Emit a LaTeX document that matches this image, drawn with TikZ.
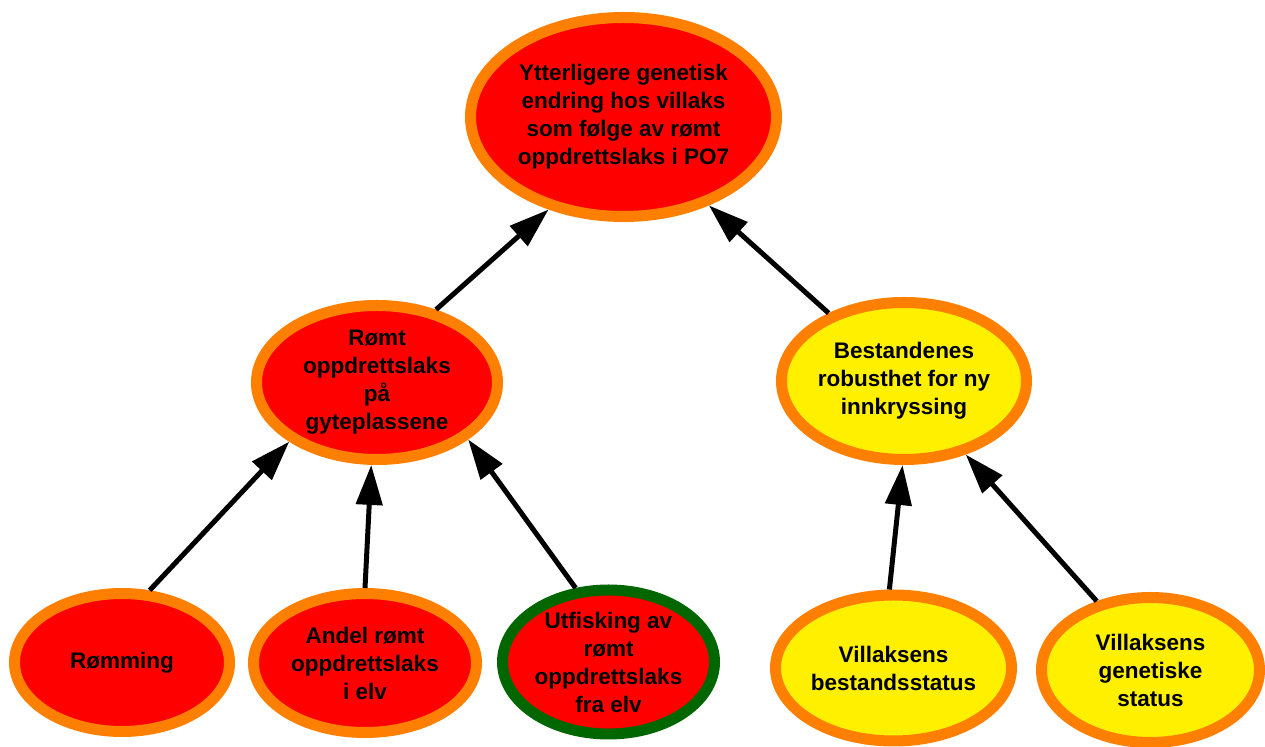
\documentclass[tikz,border=0pt]{standalone}
\usepackage{fontspec}
\setmainfont{Liberation Sans}
\usetikzlibrary{arrows.meta,shapes.geometric}
\definecolor{cfill}{RGB}{255,0,0}
\definecolor{cring}{RGB}{255,128,0}
\definecolor{cyel}{RGB}{255,240,0}
\definecolor{cgreen}{RGB}{0,102,0}

\begin{document}
\begin{tikzpicture}[x=0.5pt,y=-0.5pt,
    fact/.style={ellipse, draw=cring, line width=5.5pt, inner sep=0pt, align=center,
      font=\fontsize{11.25}{14}\selectfont\bfseries},
    redfact/.style={fact, fill=cfill},
    yelfact/.style={fact, fill=cyel},
    link/.style={-{Triangle[length=20pt,width=13pt]}, line width=2.5pt}]
    \useasboundingbox (0,0) rectangle (1265,747);
    % top
    \node[redfact, minimum width=153pt, minimum height=99.5pt] (endring) at (623.5,117)
      {Ytterligere genetisk\\endring hos villaks\\som følge av rømt\\oppdrettslaks i PO7};
    % middle row
    \node[redfact, minimum width=120.5pt, minimum height=77pt] (gyte) at (377,382.5)
      {Rømt\\oppdrettslaks\\på\\gyteplassene};
    \node[yelfact, minimum width=122.5pt, minimum height=78.5pt] (robust) at (904,381)
      {Bestandenes\\robusthet for ny\\innkryssing};
    % bottom row
    \node[redfact, minimum width=107.5pt, minimum height=69pt] (romming) at (122,662.5)
      {Rømming};
    \node[redfact, minimum width=111.5pt, minimum height=69.5pt] (andel) at (365,663)
      {Andel rømt\\oppdrettslaks\\i elv};
    \node[redfact, draw=cgreen, minimum width=106pt, minimum height=72pt] (utfisk) at (608.5,662)
      {Utfisking av\\rømt\\oppdrettslaks\\fra elv};
    \node[yelfact, minimum width=118pt, minimum height=73pt] (bestand) at (893.5,668)
      {Villaksens\\bestandsstatus};
    \node[yelfact, minimum width=109pt, minimum height=72.5pt] (genstat) at (1150.5,670)
      {Villaksens\\genetiske\\status};
    % arrows
    \draw[link] (romming.69) -- (gyte.214);
    \draw[link] (andel.90) -- (gyte.266.6);
    \draw[link] (utfisk.114.5) -- (gyte.328.3);
    \draw[link] (gyte.51) -- (endring.231.2);
    \draw[link] (robust.138.6) -- (endring.314.8);
    \draw[link] (bestand.93.9) -- (robust.269.3);
    \draw[link] (genstat.128.2) -- (robust.310.9);
\end{tikzpicture}
\end{document}
